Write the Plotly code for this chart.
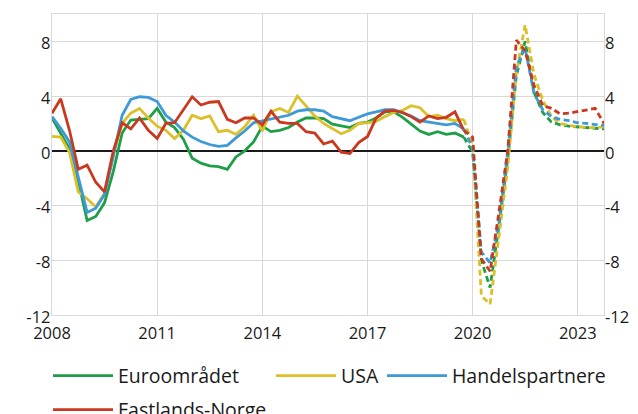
import pandas as pd
import plotly.graph_objects as go

# ---------------- data ----------------
# Quarterly observations (solid) 2008Q1 - 2019Q4
actual_quarters = [str(p) for p in pd.period_range("2008Q1", "2019Q4", freq="Q")]
# Projections (dashed) 2019Q4 - 2023Q4 (starts at last observed quarter)
proj_quarters = [str(p) for p in pd.period_range("2019Q4", "2023Q4", freq="Q")]

euro_actual = [2.4, 1.3, 0.15, -2.2,
               -5.1, -4.8, -3.8, -1.5,
               1.3, 2.25, 2.3, 2.35,
               3.1, 2.1, 1.7, 0.85,
               -0.55, -0.9, -1.1, -1.15,
               -1.35, -0.45, 0.0, 0.65,
               1.8, 1.4, 1.5, 1.7,
               2.1, 2.4, 2.4, 2.35,
               1.95, 1.8, 1.7, 2.0,
               2.1, 2.4, 2.85, 2.85,
               2.45, 1.95, 1.45, 1.2,
               1.4, 1.2, 1.3, 1.0]
usa_actual = [1.05, 1.0, -0.1, -3.0,
              -3.5, -4.1, -3.1, -0.3,
              2.0, 2.75, 3.1, 2.4,
              1.8, 1.5, 0.9, 1.5,
              2.6, 2.35, 2.55, 1.4,
              1.5, 1.2, 1.75, 2.6,
              1.45, 2.85, 3.1, 2.8,
              4.0, 3.3, 2.55, 2.0,
              1.6, 1.25, 1.5, 2.0,
              2.05, 2.15, 2.5, 2.8,
              2.95, 3.3, 3.15, 2.5,
              2.6, 2.35, 2.2, 2.3]
handel_actual = [2.5, 1.65, 0.65, -1.95,
                 -4.5, -4.2, -3.2, -0.4,
                 2.6, 3.75, 3.95, 3.9,
                 3.6, 2.6, 2.1, 1.45,
                 1.0, 0.68, 0.46, 0.33,
                 0.4, 0.95, 1.45, 2.05,
                 2.2, 2.35, 2.45, 2.6,
                 2.9, 3.0, 3.0, 2.9,
                 2.5, 2.35, 2.2, 2.45,
                 2.7, 2.85, 3.0, 3.0,
                 2.75, 2.55, 2.2, 2.1,
                 2.05, 1.9, 2.0, 1.6]
norge_actual = [2.75, 3.8, 1.5, -1.35,
                -1.05, -2.3, -3.0, 0.0,
                2.05, 1.6, 2.4, 1.5,
                0.9, 2.0, 2.05, 3.0,
                3.95, 3.35, 3.55, 3.6,
                2.3, 2.05, 2.4, 2.4,
                1.9, 2.9, 2.1, 2.0,
                2.0, 1.4, 1.3, 0.5,
                0.7, -0.1, -0.2, 0.6,
                1.05, 2.4, 2.9, 2.95,
                2.8, 2.5, 2.1, 2.55,
                2.35, 2.45, 2.85, 1.5]

euro_proj = [1.0, -0.1, -8.0, -10.0, -5.5, -0.6, 5.5, 8.0, 4.3, 2.8, 2.1, 1.9, 1.8, 1.75, 1.7, 1.65, 1.6]
usa_proj = [2.3, 0.4, -10.6, -11.2, -6.3, -1.2, 5.7, 9.2, 5.6, 3.7, 2.5, 2.0, 1.85, 1.75, 1.7, 1.7, 1.75]
handel_proj = [1.6, 0.2, -7.4, -8.2, -5.2, 0.0, 6.2, 7.5, 4.2, 3.0, 2.5, 2.3, 2.2, 2.05, 2.0, 1.95, 1.85]
norge_proj = [1.5, 1.0, -7.9, -8.8, -4.5, 0.0, 8.1, 7.3, 4.8, 3.3, 3.1, 2.7, 2.75, 2.85, 2.95, 3.1, 2.0]

series_names = ["Euroområdet", "USA", "Handelspartnere", "Fastlands-Norge"]
y_ticks = [-12, -8, -4, 0, 4, 8]
y_tick_labels = ["-12", "-8", "-4", "0", "4", "8"]
x_tick_years = [2008, 2011, 2014, 2017, 2020, 2023]

# ---------------- styling ----------------
colors = ["#1f9e48", "#dcc02a", "#3d9ad6", "#c9391f"]
legend_ids = ["legend", "legend2", "legend3", "legend4"]
FONT = "Open Sans"
LW = 2.8


def q_to_date(q):
    return pd.Period(q, freq="Q").start_time.strftime("%Y-%m-%d")


xa = [q_to_date(q) for q in actual_quarters]
xp = [q_to_date(q) for q in proj_quarters]

fig = go.Figure()
actuals = [euro_actual, usa_actual, handel_actual, norge_actual]
projs = [euro_proj, usa_proj, handel_proj, norge_proj]

for name, col, ys, lg in zip(series_names, colors, actuals, legend_ids):
    fig.add_trace(go.Scatter(x=xa, y=ys, mode="lines", name=name,
                             line=dict(color=col, width=LW),
                             legend=lg, showlegend=True))
for name, col, ys in zip(series_names, colors, projs):
    fig.add_trace(go.Scatter(x=xp, y=ys, mode="lines", name=name + " (anslag)",
                             line=dict(color=col, width=LW, dash="6px,3.5px"),
                             showlegend=False))
# empty trace on the right-hand axis
fig.add_trace(go.Scatter(x=[], y=[], yaxis="y2", showlegend=False, hoverinfo="skip"))

grid = "#d9d9d9"
tickfont = dict(family=FONT, size=16.5, color="#1a1a1a")

fig.update_layout(
    width=638, height=414,
    margin=dict(l=52, r=34, t=14, b=99, autoexpand=False),
    paper_bgcolor="white", plot_bgcolor="white",
    font=dict(family=FONT, color="#1a1a1a"),
    xaxis=dict(
        type="date",
        range=[q_to_date("2008Q1"), q_to_date("2023Q4")],
        tickvals=[f"{y}-01-01" for y in x_tick_years],
        ticktext=[str(y) for y in x_tick_years],
        showgrid=True, gridcolor=grid, gridwidth=1.3,
        showline=True, linecolor=grid, linewidth=1.3, mirror=True,
        ticks="", tickfont=tickfont, ticklabelstandoff=3,
    ),
    yaxis=dict(
        range=[-12, 10], tickvals=y_ticks, ticktext=y_tick_labels,
        showgrid=True, gridcolor=grid, gridwidth=1.3,
        showline=True, linecolor=grid, linewidth=1.3, mirror=True,
        zeroline=True, zerolinecolor="#1a1a1a", zerolinewidth=1.5,
        ticks="", tickfont=tickfont, ticklabelstandoff=-3, ticklabelshift=2,
    ),
    yaxis2=dict(
        range=[-12, 10], tickvals=y_ticks, ticktext=y_tick_labels,
        overlaying="y", side="right",
        showgrid=False, zeroline=False, showline=False,
        ticks="", tickfont=tickfont, ticklabelshift=2,
    ),
    showlegend=True,
)

legend_common = dict(orientation="h", xanchor="left", yanchor="middle",
                     font=dict(family=FONT, size=19.5, color="#1a1a1a"),
                     bgcolor="rgba(0,0,0,0)", itemwidth=60, borderwidth=0)
legend_pos = {
    "legend": (-0.0072, -0.2027),
    "legend2": (0.3967, -0.2027),
    "legend3": (0.5978, -0.2027),
    "legend4": (-0.0072, -0.3156),
}
for lg, (lx, ly) in legend_pos.items():
    fig.update_layout({lg: dict(x=lx, y=ly, **legend_common)})

fig.write_html(
    "out.html",
    config={"displayModeBar": False},
    post_script="document.body.style.margin='0';"
                "document.documentElement.style.overflow='hidden';",
)
